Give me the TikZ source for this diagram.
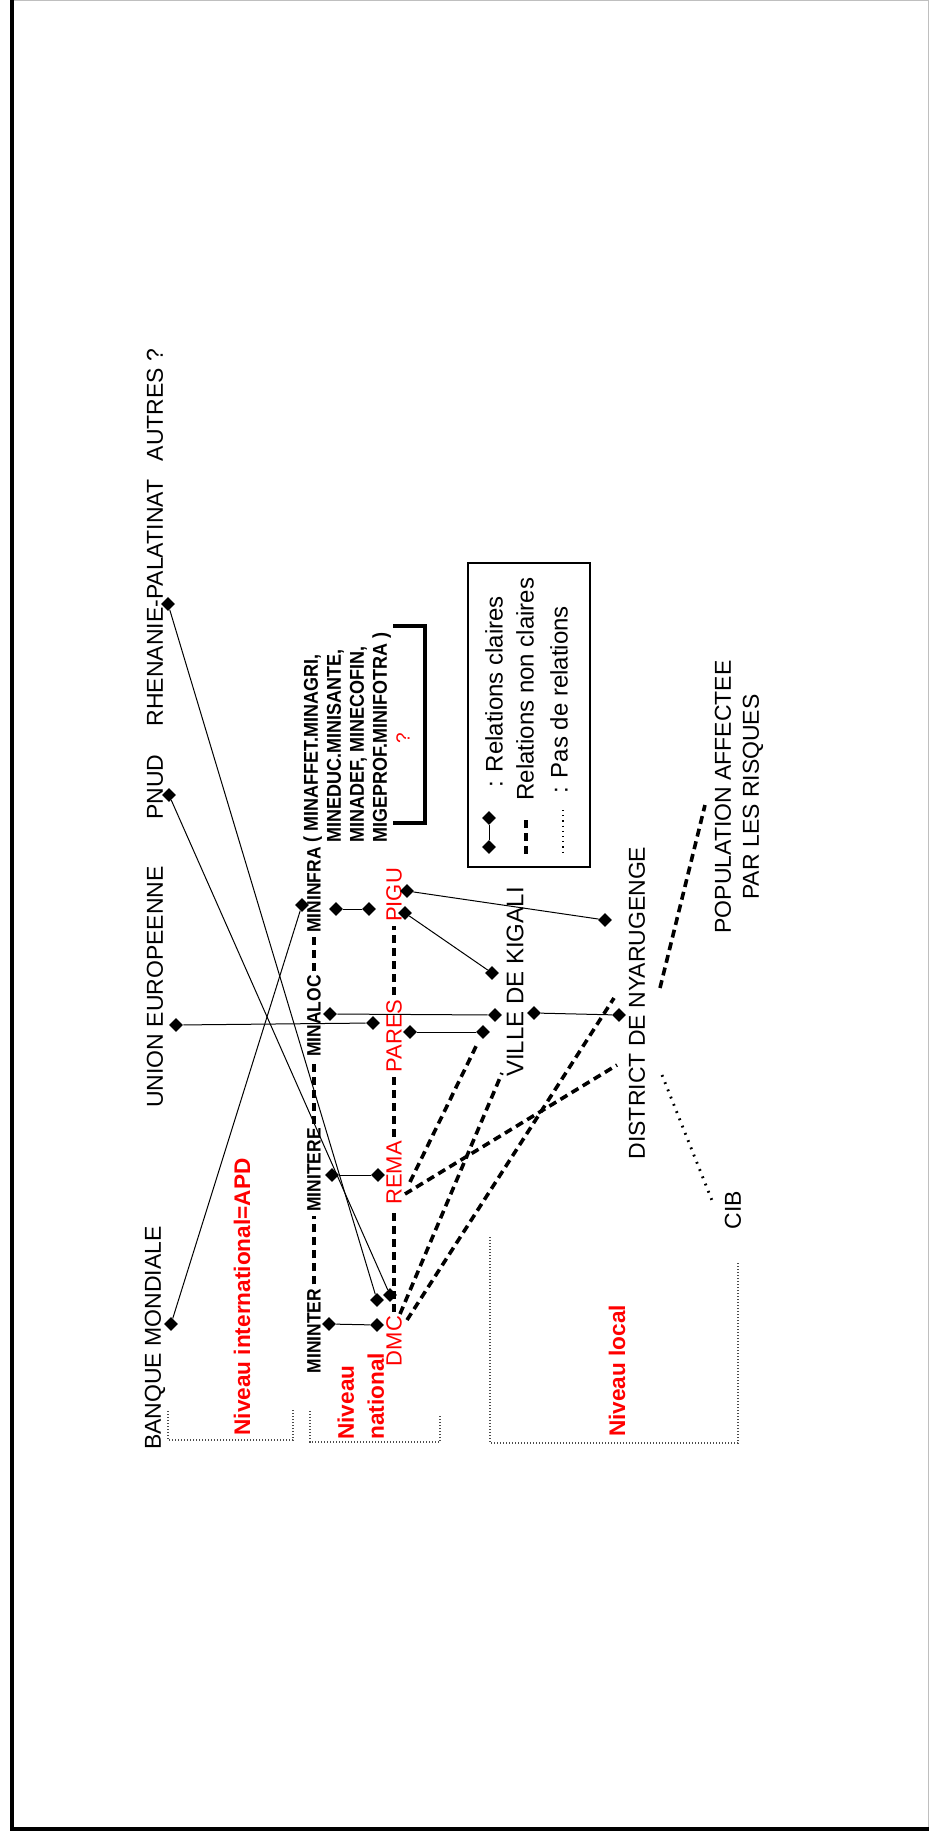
\documentclass[tikz,border=0pt]{standalone}
\usepackage{fontspec}
\setmainfont{Liberation Sans}
\newfontfamily\narrowfont[FakeStretch=0.9]{Liberation Sans}
\usetikzlibrary{shapes.geometric}

\begin{document}
\begin{tikzpicture}[x=0.5pt, y=-0.5pt,
    toplbl/.style={rotate=90, inner sep=0pt, font=\fontsize{11.5}{14}\selectfont},
    minlbl/.style={rotate=90, inner sep=0pt, font=\narrowfont\bfseries\fontsize{9.7}{10}\selectfont},
    redlbl/.style={rotate=90, inner sep=0pt, text=red, font=\fontsize{11}{12}\selectfont},
    lvllbl/.style={rotate=90, inner sep=0pt, text=red, align=left, font=\bfseries\fontsize{11.3}{15}\selectfont},
    leglbl/.style={rotate=90, inner sep=0pt, font=\fontsize{12}{14}\selectfont},
    diam/.style={diamond, fill=black, inner sep=0pt, minimum size=7pt},
    solidrel/.style={line width=0.5pt},
    dashrel/.style={line width=1.8pt, dash pattern=on 4pt off 2.5pt},
    dotrel/.style={line width=1.4pt, dash pattern=on 0.9pt off 3pt},
    lvlbox/.style={line width=0.6pt, black!70, dash pattern=on 0.6pt off 0.9pt}]
    \useasboundingbox (0,0) rectangle (929,1835);
    % frame
    \draw[black!25, line width=0.5pt] (12,1) -- (928,1) -- (928,1829);
    \draw[line width=1.75pt] (12,0) -- (12,1829) -- (929,1829);

    % international level
    \node[toplbl] (bm)     at (155,1338) {BANQUE MONDIALE};
    \node[toplbl] (ue)     at (155,987)  {UNION EUROPEENNE};
    \node[toplbl] (pnud)   at (155,787)  {PNUD};
    \node[toplbl] (rp)     at (155,603)  {RHENANIE-PALATINAT};
    \node[toplbl] (autres) at (155,405)  {AUTRES ?};

    \node[diam] (bm dot)   at (171,1324) {};
    \node[diam] (ue dot)   at (176,1025) {};
    \node[diam] (pnud dot) at (169,795)  {};
    \node[diam] (rp dot)   at (168,604)  {};

    % national level: ministries
    \node[minlbl] (mininter) at (314,1331) {MININTER};
    \node[minlbl] (minitere) at (314,1170) {MINITERE};
    \node[minlbl] (minaloc)  at (314,1016) {MINALOC};
    \node[minlbl] (mininfra) at (314,890)  {MININFRA};
    \node[minlbl, align=left, anchor=north west, font=\narrowfont\bfseries\fontsize{10}{11.5}\selectfont] (others) at (303,843)
        {( MINAFFET.MINAGRI,\\MINEDUC.MINISANTE,\\MINADEF, MINECOFIN,\\MIGEPROF.MINIFOTRA )};
    \node[redlbl, font=\fontsize{9.5}{11}\selectfont] (others q) at (403,738) {?};
    \draw[line width=1.75pt] (393,626) -- (425,626) -- (425,823) -- (393,823);

    \node[diam] (mininter dot) at (329,1324) {};
    \node[diam] (minitere dot) at (332,1175) {};
    \node[diam] (minaloc dot)  at (330,1014) {};
    \node[diam] (mininfra dot) at (336,909)  {};
    \node[diam] (mininfra bm)  at (302,905)  {};

    % national level: programmes
    \node[redlbl] (pigu)  at (394,895)  {PIGU};
    \node[redlbl] (pares) at (394,1036) {PARES};
    \node[redlbl] (rema)  at (394,1173) {REMA};
    \node[redlbl] (dmc)   at (394,1341) {DMC};

    \node[diam] (pigu dot a)  at (407,891)  {};
    \node[diam] (pigu dot b)  at (405,913)  {};
    \node[diam] (pigu in)     at (369,909)  {};
    \node[diam] (pares dot a) at (373,1023) {};
    \node[diam] (pares dot b) at (410,1032) {};
    \node[diam] (rema dot)    at (378,1175) {};
    \node[diam] (dmc dot)     at (377,1325) {};
    \node[diam] (dmc dot a)   at (377,1300) {};
    \node[diam] (dmc dot b)   at (390,1295) {};

    % local level
    \node[toplbl, font=\fontsize{12}{14}\selectfont] (vk) at (515,982) {VILLE DE KIGALI};
    \node[toplbl] (dn)  at (637,1003) {DISTRICT DE NYARUGENGE};
    \node[toplbl, align=center] (pop) at (739,797) {POPULATION AFFECTEE\\PAR LES RISQUES};
    \node[toplbl] (cib) at (733,1210) {CIB};

    \node[diam] (vk dot a) at (492,973)  {};
    \node[diam] (vk dot b) at (495,1015) {};
    \node[diam] (vk dot c) at (483,1032) {};
    \node[diam] (vk dot d) at (534,1013) {};
    \node[diam] (dn dot a) at (605,920)  {};
    \node[diam] (dn dot b) at (619,1015) {};

    % levels
    \node[lvllbl] (intl) at (242,1297) {Niveau international=APD};
    \node[lvllbl, anchor=north west] (natl) at (337,1440) {Niveau\\national};
    \node[lvllbl] (locl) at (617,1371) {Niveau local};
    \draw[lvlbox] (168,1411) -- (168,1440) -- (293,1440) -- (293,1409);
    \draw[lvlbox] (310,1411) -- (310,1442) -- (440,1442) -- (440,1415);
    \draw[lvlbox] (490,1237) -- (490,1443) -- (738,1443) -- (738,1263);

    % legend
    \node[draw, line width=0.6pt, minimum width=61pt, minimum height=152pt, inner sep=0pt] (legend) at (529,715) {};
    \node[diam] (leg d1) at (489,818) {};
    \node[diam] (leg d2) at (489,847) {};
    \node[leglbl] (leg t1) at (494,692) {: Relations claires};
    \coordinate (leg a2) at (526,820);
    \coordinate (leg b2) at (526,857);
    \node[leglbl] (leg t2) at (525,689) {Relations non claires};
    \coordinate (leg a3) at (563,810);
    \coordinate (leg b3) at (563,853);
    \node[leglbl] (leg t3) at (559,700) {: Pas de relations};
    \draw[solidrel] (leg d1) -- (leg d2);
    \draw[dashrel] (leg a2) -- (leg b2);
    \draw[line width=1pt, dash pattern=on 0.6pt off 2pt] (leg a3) -- (leg b3);

    % relations claires
    \draw[solidrel] (bm dot) -- (mininfra bm);
    \draw[solidrel] (ue dot) -- (pares dot a);
    \draw[solidrel] (pnud dot) -- (dmc dot b);
    \draw[solidrel] (rp dot) -- (dmc dot a);
    \draw[solidrel] (mininter dot) -- (dmc dot);
    \draw[solidrel] (minitere dot) -- (rema dot);
    \draw[solidrel] (minaloc dot) -- (vk dot b);
    \draw[solidrel] (mininfra dot) -- (pigu in);
    \draw[solidrel] (pares dot b) -- (vk dot c);
    \draw[solidrel] (pigu dot a) -- (dn dot a);
    \draw[solidrel] (pigu dot b) -- (vk dot a);
    \draw[solidrel] (vk dot d) -- (dn dot b);

    % relations non claires
    \draw[dashrel, shorten <=2pt, shorten >=2pt] (mininter.east) -- (minitere.west);
    \draw[dashrel, shorten <=2pt, shorten >=2pt] (minitere.east) -- (minaloc.west);
    \draw[dashrel, shorten <=2pt, shorten >=2pt] (minaloc.east) -- (mininfra.west);
    \draw[dashrel, shorten <=2pt, shorten >=2pt] (dmc.east) -- (rema.west);
    \draw[dashrel, shorten <=2pt, shorten >=2pt] (rema.east) -- (pares.west);
    \draw[dashrel, shorten <=2pt, shorten >=2pt] (pares.east) -- (pigu.west);

    \coordinate (rema out a) at (410,1182);
    \coordinate (rema out b) at (405,1194);
    \coordinate (dmc out a)  at (400,1314);
    \coordinate (dmc out b)  at (407,1320);
    \coordinate (vk in)      at (502,1073);
    \coordinate (dn in a)    at (614,998);
    \coordinate (dn in b)    at (617,1065);
    \coordinate (dn out a)   at (660,988);
    \coordinate (dn out b)   at (662,1075);
    \coordinate (pop in)     at (705,805);
    \coordinate (cib in)     at (713,1203);

    \draw[dashrel, shorten >=4pt] (rema out a) -- (vk dot c);
    \draw[dashrel] (rema out b) -- (dn in b);
    \draw[dashrel] (dmc out a) -- (vk in);
    \draw[dashrel] (dmc out b) -- (dn in a);
    \draw[dashrel] (dn out a) -- (pop in);

    % pas de relations
    \draw[dotrel] (dn out b) -- (cib in);
\end{tikzpicture}
\end{document}
